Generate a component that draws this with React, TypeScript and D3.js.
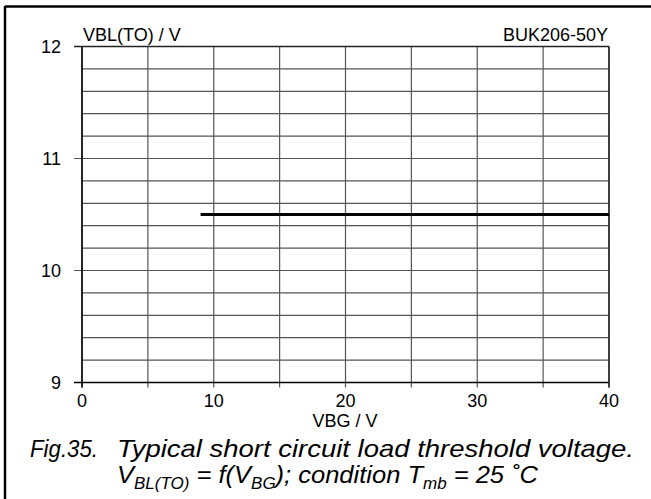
import React from "react";
import * as d3 from "d3";

const xTicks = [0, 10, 20, 30, 40];
const yTicks = [9, 10, 11, 12];
const xGrid = [0, 5, 10, 15, 20, 25, 30, 35, 40];
const yGrid = d3.range(0, 16).map((i) => 9 + i * 0.2);
const seriesX = [9, 40];
const seriesY = [10.5, 10.5];

export default function App() {
  const W = 651, H = 499;
  const x = d3.scaleLinear().domain([0, 40]).range([82, 609]);
  const y = d3.scaleLinear().domain([9, 12]).range([382.5, 46.5]);
  const line = d3.line<number>().x((d, i) => x(seriesX[i])).y((d) => y(d));
  const font = "Liberation Sans, Arial, sans-serif";
  return (
    <svg width={W} height={H} style={{ position: "absolute", left: 0, top: 0 }} fontFamily={font}>
      <rect x={0} y={0} width={W} height={H} fill="#fff" />
      <line x1={5} y1={6.5} x2={W} y2={6.5} stroke="#000" strokeWidth={2.5} />
      <line x1={5} y1={6} x2={5} y2={H} stroke="#000" strokeWidth={2.5} />
      {xGrid.map((v) => (
        <line key={"gx" + v} x1={x(v)} x2={x(v)} y1={y(12)} y2={y(9) + 5} stroke="#555" strokeWidth={1.2} />
      ))}
      {yGrid.map((v, i) => (
        <line key={"gy" + i} x1={x(0) - (Math.abs(v - Math.round(v)) < 1e-6 ? 8 : 0)} x2={x(40)} y1={y(v)} y2={y(v)} stroke="#555" strokeWidth={1.2} />
      ))}
      <line x1={x(0)} x2={x(0)} y1={y(12)} y2={y(9) + 5} stroke="#000" strokeWidth={1.5} />
      <line x1={x(0) - 8} x2={x(40)} y1={y(9)} y2={y(9)} stroke="#000" strokeWidth={1.5} />
      <line x1={x(40)} x2={x(40)} y1={y(12)} y2={y(9) + 5} stroke="#222" strokeWidth={1.5} />
      <line x1={x(0) - 8} x2={x(40)} y1={y(12)} y2={y(12)} stroke="#222" strokeWidth={1.5} />
      <path d={line(seriesY) || ""} stroke="#000" strokeWidth={3} fill="none" />
      {yTicks.map((v) => (
        <text key={"yt" + v} x={61} y={y(v) + 6.5} textAnchor="end" fontSize={18}>{v}</text>
      ))}
      {xTicks.map((v) => (
        <text key={"xt" + v} x={x(v)} y={407} textAnchor="middle" fontSize={18}>{v}</text>
      ))}
      <text x={83} y={41} fontSize={18}>VBL(TO) / V</text>
      <text x={608} y={41} fontSize={18} textAnchor="end">BUK206-50Y</text>
      <text x={345} y={427} fontSize={18} textAnchor="middle">VBG / V</text>
      <text x={30} y={457} fontSize={24} fontStyle="italic" textLength={68} lengthAdjust="spacingAndGlyphs">Fig.35.</text>
      <text x={117} y={457} fontSize={24} fontStyle="italic" textLength={517} lengthAdjust="spacingAndGlyphs">Typical short circuit load threshold voltage.</text>
      <text x={117} y={483} fontSize={24} fontStyle="italic" textLength={421} lengthAdjust="spacingAndGlyphs">
        <tspan>V</tspan>
        <tspan fontSize={16} dy={6}>BL(TO)</tspan>
        <tspan dy={-6}> = f(V</tspan>
        <tspan fontSize={16} dy={6}>BG</tspan>
        <tspan dy={-6}>); condition T</tspan>
        <tspan fontSize={16} dy={6}>mb</tspan>
        <tspan dy={-6}> = 25 ˚C</tspan>
      </text>
    </svg>
  );
}
